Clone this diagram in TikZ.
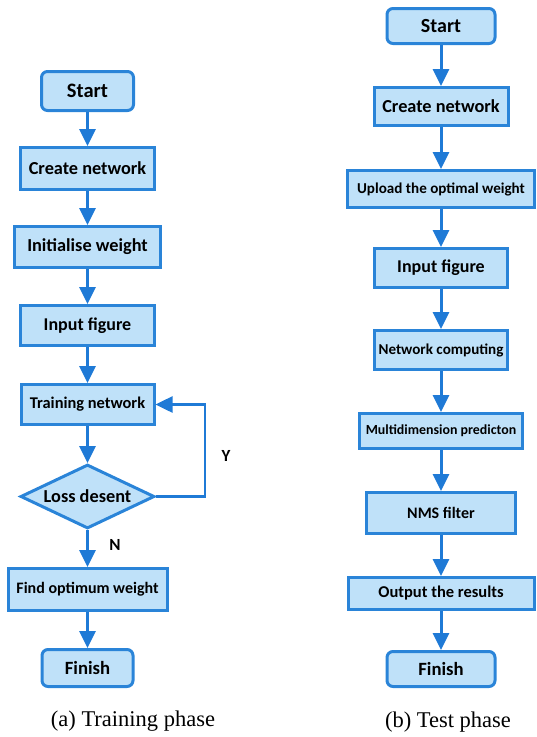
\documentclass[tikz,border=0pt]{standalone}
\usepackage{fontspec}
\setmainfont{Carlito}
\newfontfamily\capfont{Liberation Serif}
\usetikzlibrary{arrows.meta,shapes.geometric}
\definecolor{boxfill}{HTML}{BFE1F9}
\definecolor{boxline}{HTML}{2A84D8}
\definecolor{arrcol}{HTML}{1F7AD6}
\tikzset{
  box/.style={draw=boxline,fill=boxfill,line width=3pt,inner sep=0pt,font=\bfseries,align=center},
  term/.style={box,rounded corners=6pt},
  decis/.style={box,diamond,aspect=2.07},
  arr/.style={draw=arrcol,line width=3pt,-{Triangle[length=17pt,width=16pt]}},
  loopline/.style={draw=arrcol,line width=2.5pt,-{Triangle[length=17pt,width=16pt]}},
  lbl/.style={font=\bfseries\fontsize{17}{17}\selectfont},
  captext/.style={font=\capfont\fontsize{22.5}{22.5}\selectfont}
}
\newcommand{\fs}[1]{\fontsize{#1}{#1}\selectfont}
\begin{document}
\begin{tikzpicture}[x=1pt,y=-1pt]
\useasboundingbox (0,0) rectangle (537,737);
% left column
\node[term,minimum width=92pt,minimum height=39pt] (ls) at (87.5,91) {\fs{20.5}Start};
\node[box,minimum width=134pt,minimum height=42pt] (lc) at (87.5,168.5) {\fs{18.3}Create network};
\node[box,minimum width=146pt,minimum height=41pt] (li) at (87.5,247) {\fs{18.3}Initialise weight};
\node[box,minimum width=134pt,minimum height=40pt] (lf) at (87.5,325.5) {\fs{18}Input figure};
\node[box,minimum width=133pt,minimum height=40pt] (lt) at (87.5,404.5) {\fs{16.4}Training network};
\node[decis,minimum width=134pt,minimum height=64pt] (ld) at (87.5,496.5) {\fs{18.3}Loss desent};
\node[box,minimum width=159pt,minimum height=42pt] (lo) at (87.5,589.5) {\fs{16}Find optimum weight};
\node[term,minimum width=91pt,minimum height=37pt] (le) at (87.5,668) {\fs{18.7}Finish};
\coordinate (lp) at (205,404.5);
\draw[arr] (ls) -- (lc);
\draw[arr] (lc) -- (li);
\draw[arr] (li) -- (lf);
\draw[arr] (lf) -- (lt);
\draw[arr] (lt) -- (ld);
\draw[arr] (ld) -- (lo);
\draw[arr] (lo) -- (le);
\draw[loopline] (ld.east) -| (lp) -- (lt.east);
\node[lbl] (ly) at (226,456) {Y};
\node[lbl] (ln) at (115,545) {N};
\node[captext] (ca) at (133,721) {(a) Training phase};
% right column
\node[term,minimum width=108pt,minimum height=35pt] (rs) at (441,26) {\fs{20}Start};
\node[box,minimum width=134pt,minimum height=38pt] (rc) at (441,106.5) {\fs{18.3}Create network};
\node[box,minimum width=187pt,minimum height=37pt] (ru) at (441,189) {\fs{15.1}Upload the optimal weight};
\node[box,minimum width=133pt,minimum height=39pt] (ri) at (441,268) {\fs{18}Input figure};
\node[box,minimum width=133pt,minimum height=39pt] (rn) at (441,350) {\fs{15.1}Network computing};
\node[box,minimum width=163pt,minimum height=35pt] (rm) at (441,431) {\fs{13.9}Multidimension predicton};
\node[box,minimum width=149pt,minimum height=41pt] (rf) at (441,513) {\fs{16}NMS filter};
\node[box,minimum width=186pt,minimum height=32pt] (ro) at (441,593.5) {\fs{16.5}Output the results};
\node[term,minimum width=108pt,minimum height=35pt] (re) at (441,669) {\fs{18.7}Finish};
\draw[arr] (rs) -- (rc);
\draw[arr] (rc) -- (ru);
\draw[arr] (ru) -- (ri);
\draw[arr] (ri) -- (rn);
\draw[arr] (rn) -- (rm);
\draw[arr] (rm) -- (rf);
\draw[arr] (rf) -- (ro);
\draw[arr] (ro) -- (re);
\node[captext] (cb) at (448,722) {(b) Test phase};
\end{tikzpicture}
\end{document}
